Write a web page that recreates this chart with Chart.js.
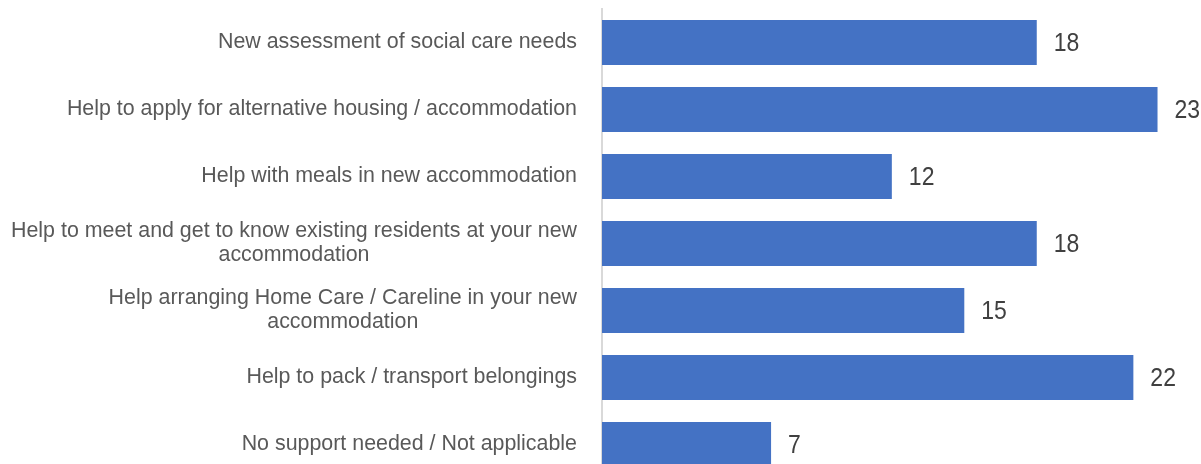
<!DOCTYPE html>
<html>
<head>
<meta charset="utf-8">
<script src="https://cdn.jsdelivr.net/npm/chart.js@4"></script>
<style>
  html, body { margin: 0; padding: 0; background: #fff; overflow: hidden; }
  #wrap { width: 1201px; height: 480px; }
</style>
</head>
<body>
<div id="wrap"><canvas id="myChart"></canvas></div>
<script>
// categories (multi-line ones are split into arrays)
let categories = [
    'New assessment of social care needs',
    'Help to apply for alternative housing / accommodation',
    'Help with meals in new accommodation',
    ['Help to meet and get to know existing residents at your new', 'accommodation'],
    ['Help arranging Home Care / Careline in your new', 'accommodation'],
    'Help to pack / transport belongings',
    'No support needed / Not applicable'
];
let counts = [18, 23, 12, 18, 15, 22, 7]; // number of responses

const FONT = '"Liberation Sans", Arial, sans-serif';

// draws category labels to the left of the axis, multi-line blocks centred
const categoryLabels = {
    id: 'categoryLabels',
    afterDraw(chart) {
        const ctx = chart.ctx;
        const yScale = chart.scales.y;
        const right = chart.chartArea.left - 25;
        const lineH = 24;
        ctx.save();
        ctx.font = '21.4px ' + FONT;
        ctx.fillStyle = '#595959';
        ctx.textBaseline = 'middle';
        ctx.textAlign = 'center';
        categories.forEach((cat, i) => {
            const lines = Array.isArray(cat) ? cat : [cat];
            const y = yScale.getPixelForValue(i);
            const maxW = Math.max(...lines.map(l => ctx.measureText(l).width));
            const cx = right - maxW / 2;
            const y0 = y - (lines.length - 1) * lineH / 2;
            lines.forEach((l, j) => ctx.fillText(l, cx, y0 + j * lineH));
        });
        ctx.restore();
    }
};

// value at the end of each bar (slightly taller glyphs, like the original)
const valueLabels = {
    id: 'valueLabels',
    afterDatasetsDraw(chart) {
        const ctx = chart.ctx;
        const meta = chart.getDatasetMeta(0);
        ctx.save();
        ctx.font = '23px ' + FONT;
        ctx.fillStyle = '#404040';
        ctx.textAlign = 'left';
        ctx.textBaseline = 'middle';
        meta.data.forEach((bar, i) => {
            ctx.save();
            ctx.translate(bar.x + 17, bar.y + 1);
            ctx.scale(1, 1.14);
            ctx.fillText(counts[i], 0, 0);
            ctx.restore();
        });
        ctx.restore();
    }
};

const chart = document.getElementById('myChart').getContext('2d');

const myChart = new Chart(chart, {
    type: 'bar',
    data: {
        labels: categories,
        datasets: [{
            label: 'Responses',
            data: counts,
            backgroundColor: '#4472C4',
            borderWidth: 0,
            categoryPercentage: 1,
            barPercentage: 0.672
        }]
    },
    options: {
        indexAxis: 'y',
        responsive: true,
        maintainAspectRatio: false,
        animation: false,
        layout: { padding: { top: 9, bottom: 2, left: 0, right: 0 } },
        scales: {
            x: {
                display: false,
                min: 0,
                max: 24.8
            },
            y: {
                grid: { display: false },
                border: { display: true, color: '#d9d9d9', width: 2 },
                ticks: { display: false },
                afterFit(scale) { scale.width = 602; }
            }
        },
        plugins: {
            legend: { display: false },
            tooltip: { enabled: false }
        }
    },
    plugins: [categoryLabels, valueLabels]
});
</script>
</body>
</html>
